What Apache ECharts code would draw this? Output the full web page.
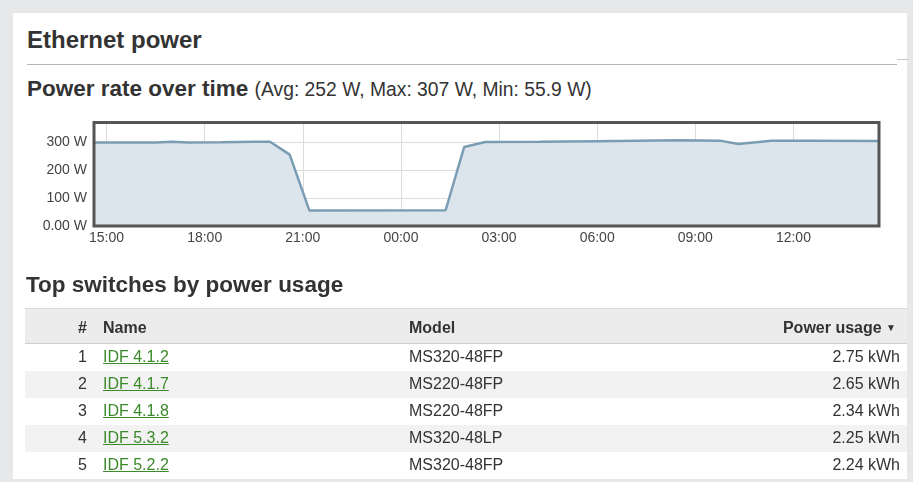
<!DOCTYPE html>
<html>
<head>
<meta charset="utf-8">
<script src="https://cdn.jsdelivr.net/npm/echarts@6/dist/echarts.min.js"></script>
<style>
  html, body { margin: 0; padding: 0; }
  body { width: 913px; height: 482px; background: #e7e8e9; position: relative; overflow: hidden;
         font-family: "Liberation Sans", Arial, Helvetica, sans-serif; color: #333; }
  .panel { position: absolute; left: 13px; top: 13px; width: 894px; height: 466px; background: #fff; }
  .h1 { position: absolute; left: 27px; top: 28px; font-size: 24px; line-height: 24px; font-weight: bold; color: #333; white-space: nowrap; }
  .rule { position: absolute; left: 27px; top: 64px; width: 870px; height: 0; border-top: 1.5px solid #b5b5b5; }
  .dash { position: absolute; left: 897px; top: 59px; width: 11px; height: 0; border-top: 1.5px solid #c8c8c8; }
  .h2 { position: absolute; left: 27px; top: 78px; font-size: 22.5px; line-height: 22.5px; font-weight: bold; white-space: nowrap; }
  .h2 span { font-weight: normal; font-size: 19.3px; }
  .h3 { position: absolute; left: 26px; top: 274px; font-size: 22.5px; line-height: 22.5px; font-weight: bold; white-space: nowrap; }
  #chart { position: absolute; left: 0; top: 0; width: 913px; height: 482px; }
  table { position: absolute; left: 25px; top: 308px; width: 882px; border-collapse: collapse; table-layout: fixed; font-size: 16px; }
  th, td { padding: 0; white-space: nowrap; }
  thead tr { background: #ececec; height: 35px; border-top: 1px solid #dcdcdc; border-bottom: 1px solid #cfcfcf; }
  th { text-align: left; font-weight: bold; padding-top: 3px; }
  tbody tr { height: 27px; }
  tbody tr:nth-child(even) { background: #f2f2f3; }
  .c1 { width: 62px; text-align: right; padding-right: 4px; }
  .c2 { width: 306px; padding-left: 12px; }
  .c3 { width: 290px; }
  .c4 { text-align: right; padding-right: 7px; }
  th.c4 { padding-right: 11px; }
  a { color: #3b8a2a; text-decoration: underline; }
  .arrow { font-size: 10px; vertical-align: 2px; }
</style>
</head>
<body>
<div class="panel"></div>
<div class="h1">Ethernet power</div>
<div class="rule"></div>
<div class="dash"></div>
<div class="h2">Power rate over time <span id="stats"></span></div>
<div id="chart"></div>
<div class="h3">Top switches by power usage</div>
<table>
  <thead><tr><th class="c1">#</th><th class="c2">Name</th><th class="c3">Model</th><th class="c4">Power usage <span class="arrow">&#9660;</span></th></tr></thead>
  <tbody id="rows"></tbody>
</table>
<script>
// power readings (W) over the last 24 hours
const times = [
  '2015-03-01 14:37', '2015-03-01 15:30', '2015-03-01 16:30', '2015-03-01 17:00',
  '2015-03-01 17:30', '2015-03-01 18:30', '2015-03-01 19:30', '2015-03-01 20:00',
  '2015-03-01 20:36', '2015-03-01 21:12', '2015-03-02 01:22', '2015-03-02 01:56',
  '2015-03-02 02:35', '2015-03-02 04:15', '2015-03-02 06:00', '2015-03-02 08:30',
  '2015-03-02 09:45', '2015-03-02 10:19', '2015-03-02 11:20', '2015-03-02 12:30',
  '2015-03-02 14:37'
];
const watts = [299, 299, 299, 302, 299, 300, 302, 302, 256, 55.9, 56.4, 283,
  301, 302, 304, 307, 306, 294, 306, 306, 305];
const timeMin = '2015-03-01 14:37';
const timeMax = '2015-03-02 14:37';
const xTicks = ['2015-03-01 15:00', '2015-03-01 18:00', '2015-03-01 21:00', '2015-03-02 00:00',
  '2015-03-02 03:00', '2015-03-02 06:00', '2015-03-02 09:00', '2015-03-02 12:00'];
const yMax = 371;
const stats = { avg: '252 W', max: '307 W', min: '55.9 W' };

// top switches table
const names = ['IDF 4.1.2', 'IDF 4.1.7', 'IDF 4.1.8', 'IDF 5.3.2', 'IDF 5.2.2'];
const models = ['MS320-48FP', 'MS220-48FP', 'MS220-48FP', 'MS320-48LP', 'MS320-48FP'];
const usage = ['2.75 kWh', '2.65 kWh', '2.34 kWh', '2.25 kWh', '2.24 kWh'];

const parseTime = (s) => {
  const m = s.match(/(\d+)-(\d+)-(\d+) (\d+):(\d+)/);
  return new Date(+m[1], +m[2] - 1, +m[3], +m[4], +m[5]).getTime();
};
const pad = (n) => (n < 10 ? '0' : '') + n;

document.getElementById('stats').textContent =
  `(Avg: ${stats.avg}, Max: ${stats.max}, Min: ${stats.min})`;

let html = '';
names.forEach((name, i) => {
  html += `<tr><td class="c1">${i + 1}</td><td class="c2"><a>${name}</a></td>` +
    `<td class="c3">${models[i]}</td><td class="c4">${usage[i]}</td></tr>`;
});
document.getElementById('rows').innerHTML = html;

const tickValues = xTicks.map(parseTime);
const myChart = echarts.init(document.getElementById('chart'));
myChart.setOption({
  animation: false,
  grid: {
    left: 94, top: 122.5, right: 34, bottom: 256,
    show: true, z: 10, backgroundColor: 'transparent',
    borderColor: '#555', borderWidth: 3,
  },
  xAxis: {
    type: 'value',
    min: parseTime(timeMin),
    max: parseTime(timeMax),
    axisLine: { show: false },
    axisTick: { show: false, customValues: tickValues },
    axisLabel: {
      customValues: tickValues,
      margin: 5,
      color: '#444',
      fontSize: 14,
      fontFamily: 'Liberation Sans, Arial, sans-serif',
      formatter: (v) => {
        const d = new Date(v);
        return pad(d.getHours()) + ':' + pad(d.getMinutes());
      },
    },
    splitLine: { show: true, lineStyle: { color: '#dcdcdc', width: 1 } },
  },
  yAxis: {
    type: 'value',
    min: 0,
    max: yMax,
    interval: 100,
    axisLine: { show: false },
    axisTick: { show: false },
    axisLabel: {
      showMaxLabel: false,
      margin: 7,
      color: '#444',
      fontSize: 14,
      fontFamily: 'Liberation Sans, Arial, sans-serif',
      formatter: (v) => (v === 0 ? '0.00 W' : (v % 100 === 0 ? v + ' W' : '')),
    },
    splitLine: { show: true, lineStyle: { color: '#dcdcdc', width: 1 } },
  },
  series: [{
    type: 'line',
    data: times.map((t, i) => [parseTime(t), watts[i]]),
    symbol: 'none',
    lineStyle: { color: '#7b9db3', width: 2.5 },
    areaStyle: { color: '#dde5ec', opacity: 1 },
  }],
});
</script>
</body>
</html>
